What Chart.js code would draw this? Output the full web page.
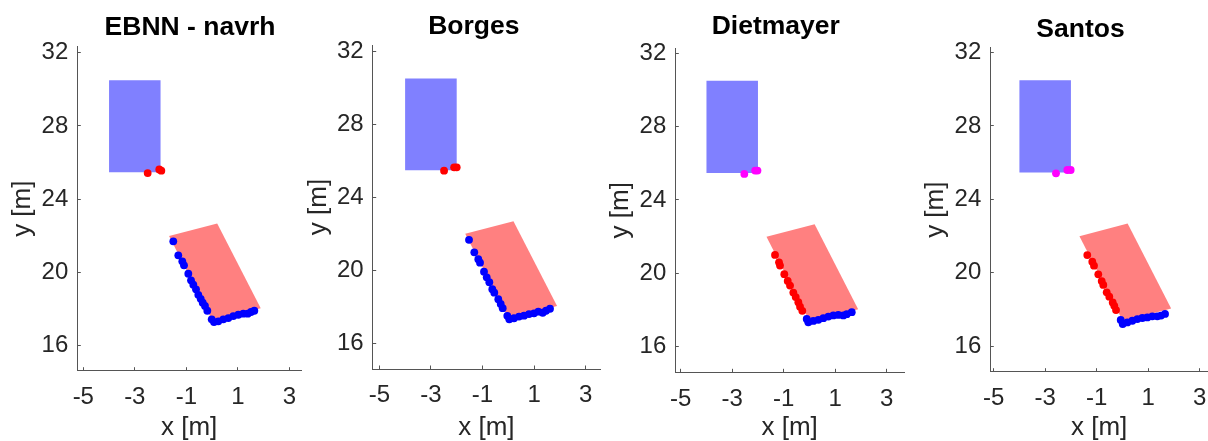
<!DOCTYPE html>
<html>
<head>
<meta charset="utf-8">
<script src="https://cdn.jsdelivr.net/npm/chart.js@4.4.1/dist/chart.umd.min.js"></script>
<style>
  html, body { margin: 0; padding: 0; background: #ffffff; width: 1208px; height: 441px; overflow: hidden; }
  .panel { position: absolute; top: 0; height: 441px; }
</style>
</head>
<body>
<script>
// ---------------- DATA ----------------
const panelTitles = ['EBNN - navrh', 'Borges', 'Dietmayer', 'Santos'];
const xAxisLabel = 'x [m]';
const yAxisLabel = 'y [m]';
const xTicks = [-5, -3, -1, 1, 3];
const yTicks = [16, 20, 24, 28, 32];

// axis limits per panel
const xMin = [-5.233, -5.256, -5.21, -5.13];
const xMax = [3.454, 3.554, 3.67, 3.32];
const yMin = [14.635, 14.59, 14.6, 14.6];
const yMax = [32.33, 32.33, 32.27, 32.27];

// reference box (blue) and estimated vehicle box (red)
const blueBoxX = [-4.0, -2.0, -2.0, -4.0, -4.0];
const blueBoxY = [25.47, 25.47, 30.5, 30.5, 25.47];
const redBoxX = [-1.67, 0.20, 1.89, 0.02, -1.67];
const redBoxY = [21.99, 22.68, 18.04, 17.35, 21.99];

// Panel 1 - EBNN - navrh
const p1NearX = [-2.50, -2.05, -1.97];
const p1NearY = [25.43, 25.63, 25.56];
const p1CarX = [-1.505, -1.311, -1.155, -1.089, -0.922, -0.817, -0.728, -0.623, -0.534, -0.441, -0.363, -0.274,
                -0.184, -0.014, 0.076, 0.243, 0.437, 0.631, 0.825, 1.019, 1.214, 1.384, 1.512, 1.641];
const p1CarY = [21.70, 20.935, 20.61, 20.39, 19.93, 19.57, 19.33, 19.08, 18.78, 18.56, 18.35, 18.17,
                17.91, 17.44, 17.29, 17.33, 17.44, 17.51, 17.62, 17.69, 17.75, 17.75, 17.84, 17.91];

// Panel 2 - Borges
const p2NearX = [-2.49, -2.10, -2.00];
const p2NearY = [25.45, 25.63, 25.63];
const p2CarX = [-1.523, -1.318, -1.163, -1.097, -0.942, -0.837, -0.736, -0.620, -0.543, -0.388, -0.295, -0.217,
                -0.039, 0.039, 0.221, 0.415, 0.609, 0.802, 0.996, 1.163, 1.333, 1.461, 1.616];
const p2CarY = [21.66, 20.98, 20.60, 20.41, 19.92, 19.61, 19.34, 18.96, 18.77, 18.41, 18.15, 17.92,
                17.50, 17.31, 17.37, 17.46, 17.51, 17.60, 17.64, 17.73, 17.67, 17.78, 17.89];

// Panel 3 - Dietmayer
const p3NearX = [-2.53, -2.11, -2.02];
const p3NearY = [25.42, 25.60, 25.60];
const p3SideX = [-1.338, -1.183, -1.144, -0.977, -0.845, -0.755, -0.627, -0.534, -0.433, -0.367, -0.278];
const p3SideY = [21.00, 20.60, 20.42, 19.95, 19.58, 19.33, 18.95, 18.70, 18.42, 18.18, 17.95];
const p3RearX = [-0.107, -0.045, 0.150, 0.344, 0.538, 0.732, 0.926, 1.120, 1.315, 1.447, 1.641];
const p3RearY = [17.51, 17.33, 17.40, 17.46, 17.55, 17.64, 17.70, 17.73, 17.70, 17.77, 17.88];

// Panel 4 - Santos
const p4NearX = [-2.58, -2.14, -2.01];
const p4NearY = [25.42, 25.60, 25.60];
const p4SideX = [-1.365, -1.171, -1.105, -0.938, -0.806, -0.744, -0.612, -0.511, -0.379, -0.317, -0.250];
const p4SideY = [20.96, 20.60, 20.38, 19.91, 19.54, 19.33, 18.93, 18.69, 18.38, 18.19, 17.96];
const p4RearX = [-0.068, 0.010, 0.188, 0.383, 0.577, 0.771, 0.965, 1.159, 1.353, 1.497, 1.652];
const p4RearY = [17.42, 17.20, 17.29, 17.38, 17.47, 17.53, 17.56, 17.62, 17.62, 17.66, 17.75];

// series per panel: [x, y, colour key]
const panelSeries = [
  [[p1NearX, p1NearY, 'red'], [p1CarX, p1CarY, 'blue']],
  [[p2NearX, p2NearY, 'red'], [p2CarX, p2CarY, 'blue']],
  [[p3NearX, p3NearY, 'magenta'], [p3SideX, p3SideY, 'red'], [p3RearX, p3RearY, 'blue']],
  [[p4NearX, p4NearY, 'magenta'], [p4SideX, p4SideY, 'red'], [p4RearX, p4RearY, 'blue']]
];

// ---------------- STYLE / LAYOUT ----------------
const COLORS = { red: '#ff0000', blue: '#0000ff', magenta: '#ff00ff', blueBox: '#8080ff', redBox: '#ff8080' };
const FONT = '"Liberation Sans", Arial, Helvetica, sans-serif';
const TEXT = '#262626';
const AXIS = '#555555';
const H = 441;
const Y_AXIS_W = 67;
const EXTRA_R = 30;
const TITLE_SIZE = 26.5;
const TICK_SIZE = 24;
const LABEL_SIZE = 26;
const FRAMES = [
  { plotLeft: 77.3,  plotRight: 301,  plotTop: 46.7, plotBottom: 370.7, titleX: 190,    titleY: 28 },
  { plotLeft: 372.7, plotRight: 600,  plotTop: 45.0, plotBottom: 369.0, titleX: 473.8,  titleY: 26.2 },
  { plotLeft: 675.3, plotRight: 904,  plotTop: 48.3, plotBottom: 372.3, titleX: 775.8,  titleY: 27 },
  { plotLeft: 990.3, plotRight: 1208, plotTop: 47.7, plotBottom: 371.7, titleX: 1080.5, titleY: 29.7 }
];

function zip(xs, ys) { return xs.map((x, k) => ({ x: x, y: ys[k] })); }

function polygon(xs, ys, color) {
  return {
    type: 'line', data: zip(xs, ys), showLine: true, fill: 'shape',
    backgroundColor: color, borderColor: 'rgba(0,0,0,0)', borderWidth: 0,
    pointRadius: 0, tension: 0, order: 10
  };
}

function makeChart(i) {
  const f = FRAMES[i];
  const cl = Math.floor(f.plotLeft - Y_AXIS_W - 6);
  const cr = Math.ceil(f.plotRight + EXTRA_R);
  const w = cr - cl;
  const div = document.createElement('div');
  div.className = 'panel';
  div.style.left = cl + 'px';
  div.style.width = w + 'px';
  const cv = document.createElement('canvas');
  cv.width = w; cv.height = H;
  cv.style.width = w + 'px'; cv.style.height = H + 'px';
  div.appendChild(cv);
  document.body.appendChild(div);

  const datasets = [];
  panelSeries[i].forEach(s => {
    datasets.push({
      type: 'scatter', data: zip(s[0], s[1]),
      backgroundColor: COLORS[s[2]], borderColor: COLORS[s[2]], borderWidth: 0,
      pointRadius: 3.9, pointHoverRadius: 3.9, order: 1
    });
  });
  datasets.push(polygon(blueBoxX, blueBoxY, COLORS.blueBox));
  datasets.push(polygon(redBoxX, redBoxY, COLORS.redBox));

  const titleCx = f.titleX - cl;
  const titleShift = {
    id: 'titleShift' + i,
    afterLayout(chart) {
      const t = chart.titleBlock;
      if (t) { t.left = titleCx - 150; t.right = titleCx + 150; }
    }
  };

  const tickFont = { family: FONT, size: TICK_SIZE, lineHeight: 1 };
  const labelFont = { family: FONT, size: LABEL_SIZE, lineHeight: 1 };
  const gridOpts = { display: true, drawOnChartArea: false, drawTicks: true, tickLength: -3.5, tickWidth: 1, tickColor: AXIS, color: AXIS };
  const borderOpts = { display: true, color: AXIS, width: 1 };

  new Chart(cv, {
    type: 'scatter',
    data: { datasets: datasets },
    options: {
      responsive: false, animation: false, devicePixelRatio: 1,
      layout: { padding: { left: f.plotLeft - cl - Y_AXIS_W, right: cr - f.plotRight, top: 0, bottom: 0 } },
      plugins: {
        legend: { display: false },
        tooltip: { enabled: false },
        title: {
          display: true, text: panelTitles[i], color: '#000000',
          font: { family: FONT, size: TITLE_SIZE, weight: 'bold', lineHeight: 1 },
          padding: { top: f.titleY - TITLE_SIZE / 2, bottom: f.plotTop - f.titleY - TITLE_SIZE / 2 }
        }
      },
      scales: {
        x: {
          type: 'linear', position: 'bottom', min: xMin[i], max: xMax[i],
          afterBuildTicks: a => { a.ticks = xTicks.map(v => ({ value: v })); },
          afterFit: s => { s.height = H - f.plotBottom; },
          ticks: { autoSkip: false, minRotation: 0, maxRotation: 0, color: TEXT, font: tickFont,
                   padding: 26.8 + 3.5 - TICK_SIZE / 2, callback: v => String(v) },
          grid: gridOpts, border: borderOpts,
          title: { display: true, text: xAxisLabel, color: TEXT, font: labelFont, padding: { top: 0, bottom: 0 } }
        },
        y: {
          type: 'linear', position: 'left', min: yMin[i], max: yMax[i],
          afterBuildTicks: a => { a.ticks = yTicks.map(v => ({ value: v })); },
          afterFit: s => { s.width = Y_AXIS_W; },
          ticks: { autoSkip: false, color: TEXT, font: tickFont, padding: 12.5, callback: v => String(v) },
          grid: gridOpts, border: borderOpts,
          title: { display: true, text: yAxisLabel, color: TEXT, font: labelFont,
                   padding: { top: Y_AXIS_W - 54 - LABEL_SIZE / 2, bottom: 0 } }
        }
      }
    },
    plugins: [titleShift]
  });
}

for (let i = 0; i < 4; i++) makeChart(i);
</script>
</body>
</html>
